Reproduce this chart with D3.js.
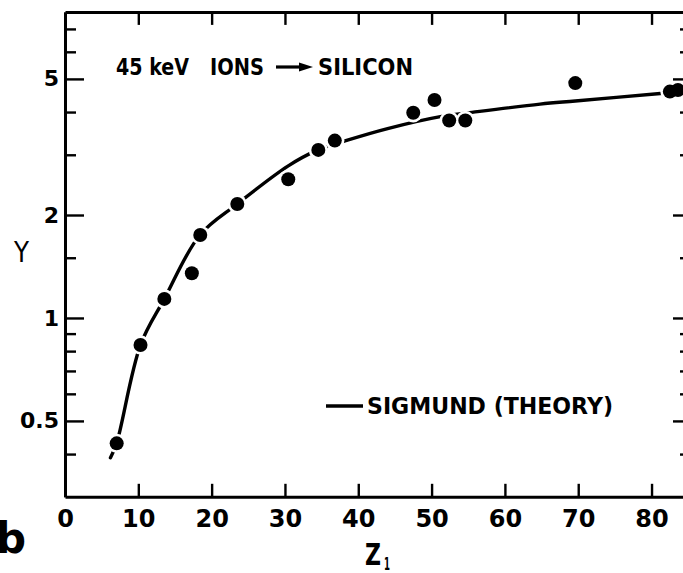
<!DOCTYPE html>
<html>
<head>
<meta charset="utf-8">
<script src="https://cdn.jsdelivr.net/npm/d3@7"></script>
<style>
  html, body { margin: 0; padding: 0; background: #fff; }
  svg { display: block; }
  text { font-family: "DejaVu Sans", sans-serif; fill: #000; }
</style>
</head>
<body>
<svg id="chart" width="683" height="573"></svg>
<script>
// Measured sputtering yields (atomic number of the ion, yield)
const ionZ   = [7.05, 10.3, 13.55, 17.3, 18.45, 23.5, 30.45, 34.55, 36.8, 47.5, 50.4, 52.4, 54.6, 69.6, 82.5, 83.6];
const ionY   = [0.43, 0.834, 1.137, 1.351, 1.748, 2.154, 2.544, 3.10, 3.30, 3.98, 4.34, 3.78, 3.78, 4.86, 4.59, 4.64];

// Sigmund theory curve
const theoryZ = [6.2, 7.05, 10.3, 13.55, 18.4, 23.5, 30.4, 34.5, 38.3, 44.0, 51.2, 55.5, 64.8, 69.6, 81.2, 84.7];
const theoryY = [0.39, 0.431, 0.834, 1.137, 1.748, 2.154, 2.78, 3.10, 3.30, 3.58, 3.88, 3.99, 4.22, 4.31, 4.53, 4.60];

// Axis ticks
const xTickValues = [0, 10, 20, 30, 40, 50, 60, 70, 80];
const xTickLabels = ["0", "10", "20", "30", "40", "50", "60", "70", "80"];
const yMajorValues = [0.5, 1, 2, 5];
const yMajorLabels = ["0.5", "1", "2", "5"];
const yMinorValues = [0.4, 0.6, 0.7, 0.8, 0.9, 1.5, 3, 4, 6, 7];

const svg = d3.select("#chart");

const x = d3.scaleLinear().domain([0, 84.7]).range([65, 686]);
const y = d3.scaleLog().domain([0.3, 7.85]).range([496.8, 11.9]);

const plotLeft = x.range()[0], plotRight = x.range()[1];
const plotTop = y.range()[1], plotBottom = y.range()[0];

// Theory curve
const curvePts = theoryZ.map((z, i) => [z, theoryY[i]]);
svg.append("path")
  .datum(curvePts)
  .attr("fill", "none")
  .attr("stroke", "#000")
  .attr("stroke-width", 3.4)
  .attr("stroke-linecap", "round")
  .attr("d", d3.line().x(d => x(d[0])).y(d => y(d[1])).curve(d3.curveCatmullRom.alpha(0.5)));

// Data points: white halo breaks the curve around each dot
const pts = ionZ.map((z, i) => [z, ionY[i]]);
svg.append("g").selectAll("circle").data(pts).join("circle")
  .attr("cx", d => x(d[0])).attr("cy", d => y(d[1]))
  .attr("r", 9.6).attr("fill", "#fff");
svg.append("g").selectAll("circle").data(pts).join("circle")
  .attr("cx", d => x(d[0])).attr("cy", d => y(d[1]))
  .attr("r", 7).attr("fill", "#000");

// Axes
function styleAxis(g) {
  g.select(".domain").attr("stroke-width", 3).attr("stroke", "#000");
  g.selectAll(".tick line").attr("stroke-width", 2.4).attr("stroke", "#000");
  g.selectAll("text").attr("font-family", "DejaVu Sans").style("font-weight", "bold").attr("fill", "#000");
}

svg.append("g").attr("transform", `translate(0,${plotBottom})`)
  .call(d3.axisBottom(x).tickValues(xTickValues).tickSizeInner(-13).tickSizeOuter(0)
    .tickPadding(13).tickFormat((d, i) => xTickLabels[i]))
  .call(styleAxis)
  .call(g => g.selectAll("text").attr("font-size", 24));

svg.append("g").attr("transform", `translate(0,${plotTop})`)
  .call(d3.axisTop(x).tickValues(xTickValues.slice(1)).tickSizeInner(-13).tickSizeOuter(0).tickFormat(""))
  .call(styleAxis);

svg.append("g").attr("transform", `translate(${plotLeft},0)`)
  .call(d3.axisLeft(y).tickValues(yMajorValues).tickSizeInner(-19).tickSizeOuter(0)
    .tickPadding(6).tickFormat((d, i) => yMajorLabels[i]))
  .call(styleAxis)
  .call(g => g.selectAll("text").attr("font-size", 22));

svg.append("g").attr("transform", `translate(${plotLeft},0)`)
  .call(d3.axisLeft(y).tickValues(yMinorValues).tickSizeInner(-11).tickSizeOuter(0).tickFormat(""))
  .call(styleAxis);

svg.append("g").attr("transform", `translate(${plotRight},0)`)
  .call(d3.axisRight(y).tickValues(yMajorValues).tickSizeInner(-13).tickSizeOuter(0).tickFormat(""))
  .call(styleAxis);

svg.append("g").attr("transform", `translate(${plotRight},0)`)
  .call(d3.axisRight(y).tickValues(yMinorValues).tickSizeInner(-6).tickSizeOuter(0).tickFormat(""))
  .call(styleAxis);

// Axis titles
svg.append("text").attr("x", 14).attr("y", 262)
  .attr("font-size", 28).style("font-weight", "normal")
  .attr("textLength", 15).attr("lengthAdjust", "spacingAndGlyphs")
  .text("Y");

svg.append("text").attr("x", 365).attr("y", 565)
  .attr("font-size", 30).style("font-weight", "bold")
  .attr("textLength", 16).attr("lengthAdjust", "spacingAndGlyphs")
  .text("Z");
svg.append("text").attr("x", 384).attr("y", 570)
  .attr("font-size", 17).style("font-weight", "bold")
  .attr("textLength", 6).attr("lengthAdjust", "spacingAndGlyphs")
  .text("1");

// Panel letter
svg.append("text").attr("x", -4).attr("y", 553)
  .attr("font-size", 42).style("font-weight", "bold").text("b");

// Heading annotation
const heading = svg.append("g").style("font-weight", "bold");
heading.append("text").attr("x", 116).attr("y", 75).attr("font-size", 23)
  .attr("textLength", 73).attr("lengthAdjust", "spacingAndGlyphs").text("45 keV");
heading.append("text").attr("x", 210).attr("y", 75).attr("font-size", 23)
  .attr("textLength", 54).attr("lengthAdjust", "spacingAndGlyphs").text("IONS");
heading.append("path")
  .attr("d", "M276,67H302")
  .attr("stroke", "#000").attr("stroke-width", 3.2);
heading.append("path")
  .attr("d", "M299,62.5L313,67L299,71.5Z")
  .attr("fill", "#000");
heading.append("text").attr("x", 318).attr("y", 75).attr("font-size", 23)
  .attr("textLength", 95).attr("lengthAdjust", "spacingAndGlyphs").text("SILICON");

// Legend for the theory curve
const legend = svg.append("g").style("font-weight", "bold");
legend.append("path").attr("d", "M326,406H363")
  .attr("stroke", "#000").attr("stroke-width", 3.4);
legend.append("text").attr("x", 367).attr("y", 414).attr("font-size", 23)
  .attr("textLength", 246).attr("lengthAdjust", "spacingAndGlyphs").text("SIGMUND (THEORY)");
</script>
</body>
</html>
